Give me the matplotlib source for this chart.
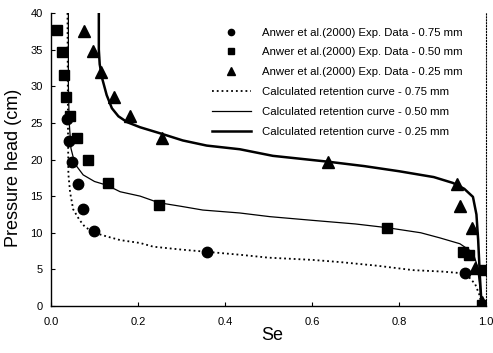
import matplotlib
matplotlib.use("Agg")
import matplotlib.pyplot as plt

plt.rcParams['font.family'] = ['Liberation Sans', 'DejaVu Sans']

# Experimental data (Anwer et al. 2000)
se_075 = [0.037, 0.041, 0.049, 0.063, 0.074, 0.099, 0.358, 0.952]
h_075 = [25.5, 22.5, 19.6, 16.6, 13.3, 10.3, 7.4, 4.5]

se_050 = [0.013, 0.025, 0.029, 0.034, 0.043, 0.059, 0.086, 0.131, 0.248, 0.772, 0.948, 0.962, 0.995, 0.99]
h_050 = [37.7, 34.7, 31.5, 28.6, 25.9, 23.0, 19.9, 16.8, 13.8, 10.7, 7.4, 6.9, 4.9, 0.2]

se_025 = [0.077, 0.097, 0.115, 0.145, 0.182, 0.255, 0.637, 0.933, 0.94, 0.968, 0.975, 0.99]
h_025 = [37.5, 34.8, 31.9, 28.6, 25.9, 23.0, 19.7, 16.6, 13.6, 10.7, 5.2, 0.5]

# Calculated retention curves
cse_075 = [0.038, 0.039, 0.040, 0.044, 0.051, 0.065, 0.078, 0.10, 0.128, 0.159, 0.205, 0.235,
           0.30, 0.358, 0.434, 0.50, 0.60, 0.664, 0.75, 0.832, 0.90, 0.94, 0.96, 0.975, 0.985, 0.99]
ch_075 = [40, 25, 18, 15.5, 13.2, 11.8, 10.8, 10.0, 9.5, 9.0, 8.6, 8.1,
          7.7, 7.4, 7.0, 6.6, 6.3, 6.0, 5.5, 4.9, 4.7, 4.5, 4.0, 3.0, 1.5, 0]

cse_050 = [0.040, 0.040, 0.042, 0.046, 0.055, 0.074, 0.10, 0.128, 0.159, 0.205, 0.248, 0.30,
           0.349, 0.434, 0.503, 0.60, 0.70, 0.772, 0.85, 0.894, 0.94, 0.97, 0.98, 0.985, 0.99]
ch_050 = [40, 30, 25, 21.5, 19.4, 17.9, 17.0, 16.5, 15.6, 15.0, 14.1, 13.6,
          13.1, 12.7, 12.2, 11.7, 11.2, 10.7, 10.0, 9.3, 8.5, 7.3, 5.5, 3, 0]

cse_025 = [0.11, 0.11, 0.112, 0.118, 0.128, 0.140, 0.155, 0.175, 0.205, 0.255, 0.303, 0.358, 0.434,
           0.51, 0.637, 0.72, 0.80, 0.88, 0.924, 0.95, 0.97, 0.978, 0.982, 0.986, 0.99]
ch_025 = [40, 35, 33.0, 31.0, 28.8, 27.0, 25.9, 25.1, 24.4, 23.5, 22.6, 21.9, 21.4,
          20.5, 19.7, 19.1, 18.4, 17.6, 16.8, 16.0, 14.9, 12.5, 9, 4, 0]

labels = ["Anwer et al.(2000) Exp. Data - 0.75 mm",
          "Anwer et al.(2000) Exp. Data - 0.50 mm",
          "Anwer et al.(2000) Exp. Data - 0.25 mm",
          "Calculated retention curve - 0.75 mm",
          "Calculated retention curve - 0.50 mm",
          "Calculated retention curve - 0.25 mm"]

xticks = [0.0, 0.2, 0.4, 0.6, 0.8, 1.0]
xticklabels = ["0.0", "0.2", "0.4", "0.6", "0.8", "1.0"]
yticks = [0, 5, 10, 15, 20, 25, 30, 35, 40]

fig = plt.figure(figsize=(4.93, 3.53), dpi=100)
ax = fig.add_axes([0.1034, 0.1331, 0.8824, 0.8301])

ax.plot(se_075, h_075, 'o', color='black', ms=7.5, label=labels[0], zorder=3)
ax.plot(se_050, h_050, 's', color='black', ms=7, label=labels[1], zorder=3)
ax.plot(se_025, h_025, '^', color='black', ms=9, label=labels[2], zorder=3)
ax.plot(cse_075, ch_075, ':', color='black', lw=1.3, label=labels[3])
ax.plot(cse_050, ch_050, '-', color='black', lw=0.9, label=labels[4])
ax.plot(cse_025, ch_025, '-', color='black', lw=1.8, label=labels[5])

ax.set_xlim(0, 1.0)
ax.set_ylim(0, 40)
ax.set_xticks(xticks)
ax.set_xticklabels(xticklabels)
ax.set_yticks(yticks)
ax.tick_params(direction='in', length=3, width=0.8, labelsize=8, pad=6)
ax.tick_params(axis='x', pad=8)

ax.spines['top'].set_visible(False)
ax.spines['right'].set_linestyle(':')
ax.spines['right'].set_linewidth(0.8)
ax.spines['left'].set_linewidth(1.0)
ax.spines['bottom'].set_linewidth(1.0)

ax.set_xlabel("Se", fontsize=13)
ax.xaxis.set_label_coords(0.508, -0.07)
ax.set_ylabel("Pressure head (cm)", fontsize=13)
ax.yaxis.set_label_coords(-0.067, 0.47)

leg = ax.legend(loc='upper left', bbox_to_anchor=(0.37, 0.95), frameon=False,
                fontsize=8.2, markerscale=0.6, handlelength=3.4, handletextpad=1.0,
                labelspacing=0.86, borderaxespad=0, borderpad=0)

fig.savefig("out.png", dpi=100)
